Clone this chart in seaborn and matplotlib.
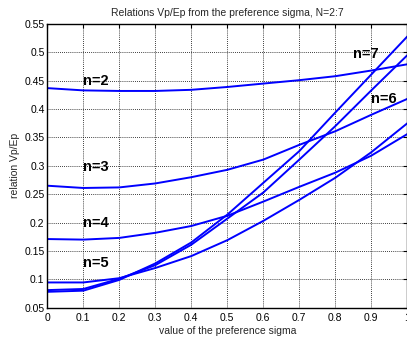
import numpy as np
import pandas as pd
import matplotlib
matplotlib.use("Agg")
import matplotlib.pyplot as plt
import seaborn as sns

sigma = [0.0, 0.1, 0.2, 0.3, 0.4, 0.5, 0.6, 0.7, 0.8, 0.9, 1.0]
n2 = [0.437, 0.433, 0.432, 0.432, 0.434, 0.439, 0.445, 0.451, 0.458, 0.468, 0.479]
n3 = [0.265, 0.261, 0.262, 0.269, 0.280, 0.293, 0.311, 0.337, 0.361, 0.390, 0.418]
n4 = [0.171, 0.170, 0.173, 0.182, 0.194, 0.212, 0.237, 0.263, 0.288, 0.318, 0.356]
n5 = [0.0945, 0.0945, 0.102, 0.120, 0.141, 0.169, 0.203, 0.240, 0.279, 0.324, 0.375]
n6 = [0.081, 0.083, 0.101, 0.125, 0.161, 0.207, 0.253, 0.311, 0.370, 0.433, 0.495]
n7 = [0.078, 0.080, 0.099, 0.128, 0.165, 0.214, 0.270, 0.326, 0.394, 0.461, 0.528]
series_names = ["n=2", "n=3", "n=4", "n=5", "n=6", "n=7"]
series_values = [n2, n3, n4, n5, n6, n7]

labels = ["n=2", "n=3", "n=4", "n=5", "n=6", "n=7"]
label_x = [0.1, 0.1, 0.1, 0.1, 0.9, 0.85]
label_y = [0.449, 0.298, 0.199, 0.128, 0.418, 0.497]

xticks = [0, 0.1, 0.2, 0.3, 0.4, 0.5, 0.6, 0.7, 0.8, 0.9, 1]
xtick_labels = ["0", "0.1", "0.2", "0.3", "0.4", "0.5", "0.6", "0.7", "0.8", "0.9", "1"]
yticks = [0.05, 0.1, 0.15, 0.2, 0.25, 0.3, 0.35, 0.4, 0.45, 0.5, 0.55]
ytick_labels = ["0.05", "0.1", "0.15", "0.2", "0.25", "0.3", "0.35", "0.4", "0.45", "0.5", "0.55"]

rows = []
for name, vals in zip(series_names, series_values):
    for s, v in zip(sigma, vals):
        rows.append({"sigma": s, "value": v, "n": name})
df = pd.DataFrame(rows)

sns.set_style("white")
plt.rcParams["font.family"] = ["Liberation Sans", "DejaVu Sans"]

fig = plt.figure(figsize=(4.07, 3.40), dpi=100)
ax = fig.add_axes([47.3 / 407, 1 - 307.7 / 340, 360 / 407, (307.7 - 24) / 340])

sns.lineplot(data=df, x="sigma", y="value", hue="n", units="n", estimator=None,
             palette=["#0000ff"] * 6, linewidth=1.4, legend=False, ax=ax)

ax.set_xlim(0, 1)
ax.set_ylim(0.05, 0.55)
ax.set_xticks(xticks)
ax.set_xticklabels(xtick_labels)
ax.set_yticks(yticks)
ax.set_yticklabels(ytick_labels)
ax.tick_params(axis="both", direction="in", length=3, width=0.8, labelsize=7.5,
               top=True, right=True, colors="black")
ax.tick_params(axis="x", pad=4)
ax.tick_params(axis="y", pad=2)
ax.grid(True, color="black", linestyle=(0, (1, 1.5)), linewidth=0.6)
for sp in ax.spines.values():
    sp.set_color("black")
    sp.set_linewidth(1.0)

ax.set_title("Relations Vp/Ep from the preference sigma, N=2:7", fontsize=7.5, pad=6)
ax.set_xlabel("value of the preference sigma", fontsize=7.5, labelpad=2)
ax.set_ylabel("relation Vp/Ep", fontsize=7.5, labelpad=3)

for t, x, y in zip(labels, label_x, label_y):
    ax.text(x, y, t, fontsize=10.5, fontweight="bold", ha="left", va="center", color="black")

fig.savefig("out.png", dpi=100)
